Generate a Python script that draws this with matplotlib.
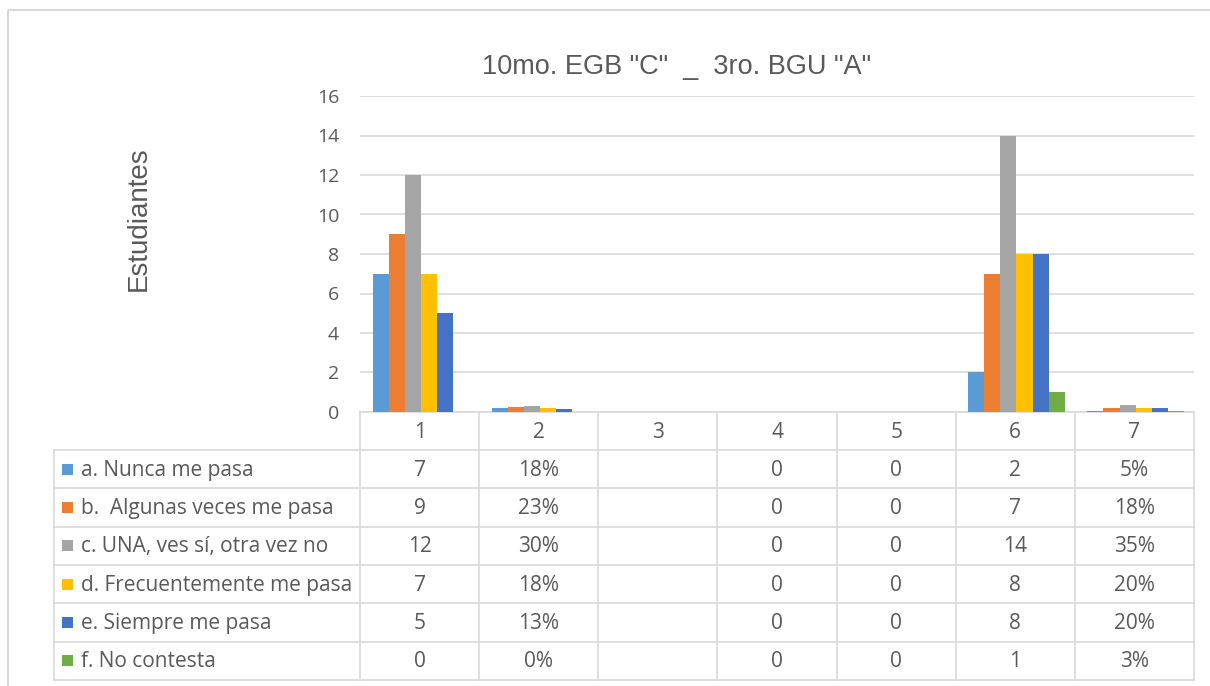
import numpy as np
import matplotlib
matplotlib.use("Agg")
import matplotlib.pyplot as plt
from matplotlib.patches import Rectangle

# survey answers per question (columns 1..7); columns 2 and 7 hold shares, column 3 is empty
categories = ["1", "2", "3", "4", "5", "6", "7"]
percent_cols = [1, 6]

series_names = [
    "a. Nunca me pasa",
    "b.  Algunas veces me pasa",
    "c. UNA, ves sí, otra vez no",
    "d. Frecuentemente me pasa",
    "e. Siempre me pasa",
    "f. No contesta",
]
nunca = [7, 0.18, None, 0, 0, 2, 0.05]
algunas = [9, 0.23, None, 0, 0, 7, 0.18]
una_vez = [12, 0.30, None, 0, 0, 14, 0.35]
frecuente = [7, 0.18, None, 0, 0, 8, 0.20]
siempre = [5, 0.13, None, 0, 0, 8, 0.20]
no_contesta = [0, 0.0, None, 0, 0, 1, 0.03]
series_values = [nunca, algunas, una_vez, frecuente, siempre, no_contesta]

colors = ["#5B9BD5", "#ED7D31", "#A5A5A5", "#FFC000", "#4472C4", "#70AD47"]
text_color = "#595959"
line_color = "#D9D9D9"

W, H = 1210, 686
fig = plt.figure(figsize=(W / 100, H / 100), dpi=100)

# pixel overlay for border, table and labels
ov = fig.add_axes([0, 0, 1, 1], zorder=0)
ov.set_xlim(0, W)
ov.set_ylim(H, 0)
ov.axis("off")

left_px, right_px, top_px, bot_px = 360, 1194, 96, 412
ax = fig.add_axes([left_px / W, 1 - bot_px / H, (right_px - left_px) / W, (bot_px - top_px) / H], zorder=1)
ax.patch.set_alpha(0)

n = len(series_values)
bw = 0.135
x = np.arange(len(categories))
for i, (vals, c) in enumerate(zip(series_values, colors)):
    v = np.array([np.nan if val is None else val for val in vals], dtype=float)
    ax.bar(x + (i - (n - 1) / 2) * bw + 0.01, v, width=bw, color=c, edgecolor="none", zorder=3)

ax.set_xlim(-0.5, len(categories) - 0.5)
ax.set_ylim(0, 16)
ax.set_yticks(np.arange(0, 17, 2))
ax.set_xticks([])
ax.yaxis.grid(True, color=line_color, linewidth=1.2)
ax.set_axisbelow(True)
ax.tick_params(axis="y", length=0, pad=15, labelsize=14, labelcolor=text_color)
for lab in ax.get_yticklabels():
    lab.set_fontfamily("Open Sans")
for s in ax.spines.values():
    s.set_visible(False)

# chart border
ov.add_patch(Rectangle((8, 10), W, H, fill=False, edgecolor=line_color, linewidth=1.5))

# title and axis label
ov.text(677, 67, '10mo. EGB "C"  _  3ro. BGU "A"', ha="center", va="center",
        fontsize=19.5, color=text_color, family="Liberation Sans")
ov.text(139, 219, "Estudiantes", ha="center", va="center", rotation=90,
        fontsize=20, color=text_color, family="Liberation Sans")

# data table under the axis
def col_px(xv):
    return left_px + (xv + 0.5) / len(categories) * (right_px - left_px)

head_top, head_bot, row_h = bot_px, 450, 38.3
table_left = 54
table_bot = head_bot + row_h * n
lw = 1.2
fs = 15

ov.plot([left_px, right_px], [head_top, head_top], color=line_color, lw=lw)
for k in range(n + 1):
    yy = head_bot + k * row_h
    ov.plot([table_left, right_px], [yy, yy], color=line_color, lw=lw)
ov.plot([table_left, table_left], [head_bot, table_bot], color=line_color, lw=lw)
for j in range(len(categories) + 1):
    xx = col_px(j - 0.5)
    ov.plot([xx, xx], [head_top, table_bot], color=line_color, lw=lw)

for j, cat in enumerate(categories):
    ov.text(col_px(j), (head_top + head_bot) / 2 + 1, cat, ha="center", va="center",
            fontsize=fs, color=text_color, family="Open Sans")

for i, (name, vals, c) in enumerate(zip(series_names, series_values, colors)):
    yc = head_bot + (i + 0.5) * row_h
    ov.add_patch(Rectangle((62, yc - 5.5), 11, 11, color=c, lw=0))
    ov.text(81, yc + 1, name, ha="left", va="center", fontsize=fs,
            color=text_color, family="Open Sans")
    for j, val in enumerate(vals):
        if val is None:
            continue
        label = f"{round(val * 100)}%" if j in percent_cols else f"{val:g}"
        ov.text(col_px(j), yc + 1, label, ha="center", va="center", fontsize=fs,
                color=text_color, family="Open Sans")

fig.savefig("out.png", dpi=100, facecolor="white")
